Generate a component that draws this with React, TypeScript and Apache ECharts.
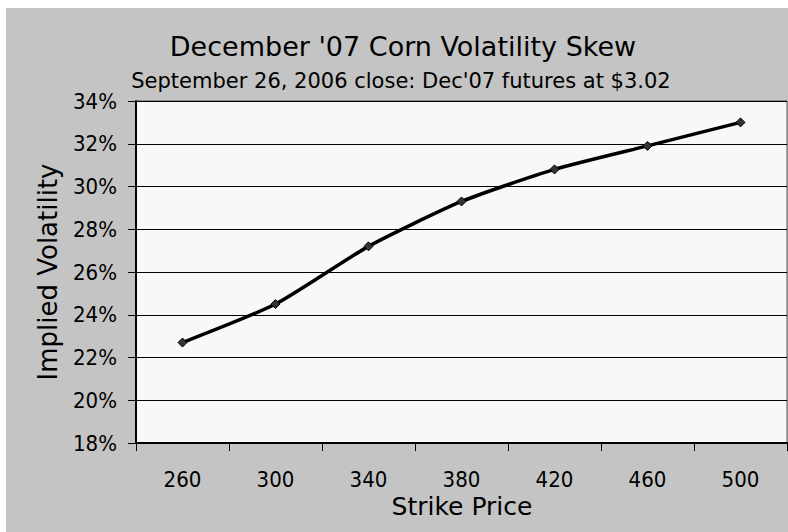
import React, { useEffect, useRef } from "react";
import * as echarts from "echarts";

const strikes = ["260", "300", "340", "380", "420", "460", "500"];
const impliedVol = [22.7, 24.5, 27.2, 29.3, 30.8, 31.9, 33.0];
const yMin = 18;
const yMax = 34;
const yStep = 2;

const titleText = "December '07 Corn Volatility Skew";
const subtitleText = "September 26, 2006 close: Dec'07 futures at $3.02";
const xName = "Strike Price";
const yName = "Implied Volatility";

const FONT = "'DejaVu Sans', sans-serif";
const FONT_C = "'DejaVu Sans Condensed', 'DejaVu Sans', sans-serif";

export default function App() {
  const ref = useRef<HTMLDivElement>(null);
  useEffect(() => {
    const chart = echarts.init(ref.current!, null, { renderer: "svg" });
    chart.setOption({
      animation: false,
      backgroundColor: "#ffffff",
      graphic: [
        {
          type: "rect",
          shape: { x: 6, y: 8, width: 782, height: 524 },
          style: { fill: "#C4C4C4" },
          z: -10,
          silent: true,
        },
        {
          type: "text",
          x: 403,
          y: 46.5,
          style: {
            text: titleText,
            font: `27px ${FONT}`,
            fill: "#000",
            align: "center",
            verticalAlign: "middle",
          },
        },
        {
          type: "text",
          x: 401,
          y: 80.5,
          style: {
            text: subtitleText,
            font: `21px ${FONT}`,
            fill: "#000",
            align: "center",
            verticalAlign: "middle",
          },
        },
        {
          type: "text",
          x: 462,
          y: 506.5,
          style: {
            text: xName,
            font: `25px ${FONT}`,
            fill: "#000",
            align: "center",
            verticalAlign: "middle",
          },
        },
        {
          type: "text",
          x: 48,
          y: 272,
          rotation: Math.PI / 2,
          style: {
            text: yName,
            font: `26px ${FONT}`,
            fill: "#000",
            align: "center",
            verticalAlign: "middle",
          },
        },
      ],
      grid: {
        left: 136,
        top: 101,
        right: 1,
        bottom: 89,
        show: true,
        backgroundColor: "#F8F8F8",
        borderColor: "#555",
        borderWidth: 1,
      },
      xAxis: {
        type: "category",
        data: strikes,
        boundaryGap: true,
        axisLine: { lineStyle: { color: "#000", width: 2 } },
        axisTick: { show: true, length: 8, lineStyle: { color: "#000", width: 1 } },
        axisLabel: {
          color: "#000",
          fontFamily: FONT_C,
          fontSize: 22,
          margin: 25,
        },
        splitLine: { show: false },
      },
      yAxis: {
        type: "value",
        min: yMin,
        max: yMax,
        interval: yStep,
        axisLine: { show: true, lineStyle: { color: "#000", width: 2 } },
        axisTick: { show: true, length: 8, lineStyle: { color: "#000", width: 1 } },
        axisLabel: {
          color: "#000",
          fontFamily: FONT_C,
          fontSize: 22,
          margin: 19,
          formatter: "{value}%",
        },
        splitLine: { show: true, lineStyle: { color: "#000", width: 1 } },
      },
      series: [
        {
          type: "line",
          data: impliedVol,
          smooth: 0.2,
          lineStyle: { color: "#000", width: 3.5 },
          symbol: "diamond",
          symbolSize: 9,
          itemStyle: { color: "#333", borderColor: "#000", borderWidth: 1 },
        },
      ],
    });
    return () => chart.dispose();
  }, []);
  return <div ref={ref} style={{ width: 788, height: 532, position: "absolute", left: 0, top: 0 }} />;
}
